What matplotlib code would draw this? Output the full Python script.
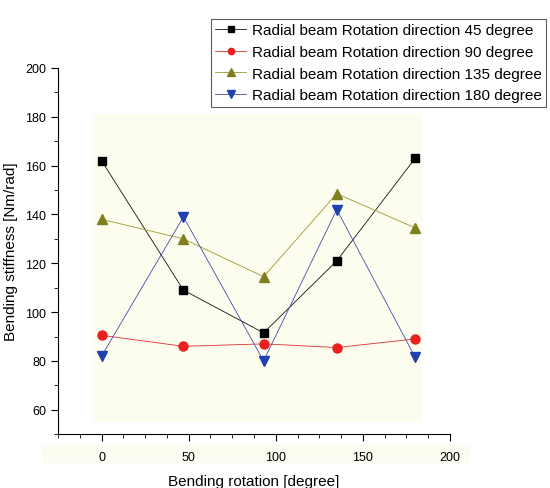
import numpy as np
import matplotlib.pyplot as plt
from matplotlib.patches import Rectangle
from matplotlib.ticker import MultipleLocator

plt.rcParams['font.family'] = ['Liberation Sans', 'DejaVu Sans']

# bending rotation [degree] (as plotted)
x = [0, 47, 93, 135, 180]

deg45 = [162, 109, 91.5, 121, 163]
deg90 = [90.5, 86, 87, 85.5, 89]
deg135 = [138, 130, 114.5, 148.5, 134.5]
deg180 = [82, 139, 80, 142, 81.5]

labels = ['Radial beam Rotation direction 45 degree',
          'Radial beam Rotation direction 90 degree',
          'Radial beam Rotation direction 135 degree',
          'Radial beam Rotation direction 180 degree']

fig = plt.figure(figsize=(5.5, 4.89), dpi=100)
ax = fig.add_axes([0.1055, 0.110, 0.7127, 0.749])

# pale background patches (scan artefacts)
ax.add_patch(Rectangle((-5, 55), 189, 126, transform=ax.transData,
                       facecolor='#fcfcef', edgecolor='none', zorder=0))
fig.patches.append(Rectangle((42/550, 1-464/489), 428/550, 18/489,
                             transform=fig.transFigure, facecolor='#fcfcf0',
                             edgecolor='none', zorder=-5))

ax.plot(x, deg45, '-', color='#111111', lw=0.6, marker='s', ms=6, mfc='black', mec='black', label=labels[0])
ax.plot(x, deg90, '-', color='#e03030', lw=0.6, marker='o', ms=6.5, mfc='#e82020', mec='#e82020', label=labels[1])
ax.plot(x, deg135, '-', color='#9a9a30', lw=0.6, marker='^', ms=7.5, mfc='#7f7f1f', mec='#7f7f1f', label=labels[2])
ax.plot(x, deg180, '-', color='#4a4aa8', lw=0.6, marker='v', ms=7.5, mfc='#2040b0', mec='#2040b0', label=labels[3])

ax.set_xlim(-25, 200)
ax.set_ylim(50, 200)
ax.xaxis.set_major_locator(MultipleLocator(50))
ax.xaxis.set_minor_locator(MultipleLocator(12.5))
ax.yaxis.set_major_locator(MultipleLocator(20))
ax.yaxis.set_minor_locator(MultipleLocator(10))
ax.set_xticks([0, 50, 100, 150, 200])
ax.tick_params(which='major', direction='out', length=5, labelsize=9)
ax.tick_params(which='minor', direction='out', length=3)
ax.tick_params(axis='x', pad=7)

for s in ['top', 'right']:
    ax.spines[s].set_visible(False)
ax.set_facecolor('none')

ax.set_xlabel('Bending rotation [degree]', fontsize=11, labelpad=8)
ax.set_ylabel('Bending stiffness [Nm/rad]', fontsize=11, labelpad=5)

leg = fig.legend(loc='upper left', bbox_to_anchor=(203/550, 1-12/489),
                 fontsize=11, frameon=True, fancybox=False, handlelength=2.0,
                 borderpad=0.3, labelspacing=0.5, handletextpad=0.4, markerscale=0.7)
leg.get_frame().set_edgecolor('#333333')
leg.get_frame().set_linewidth(0.8)

fig.savefig('out.png', dpi=100)
